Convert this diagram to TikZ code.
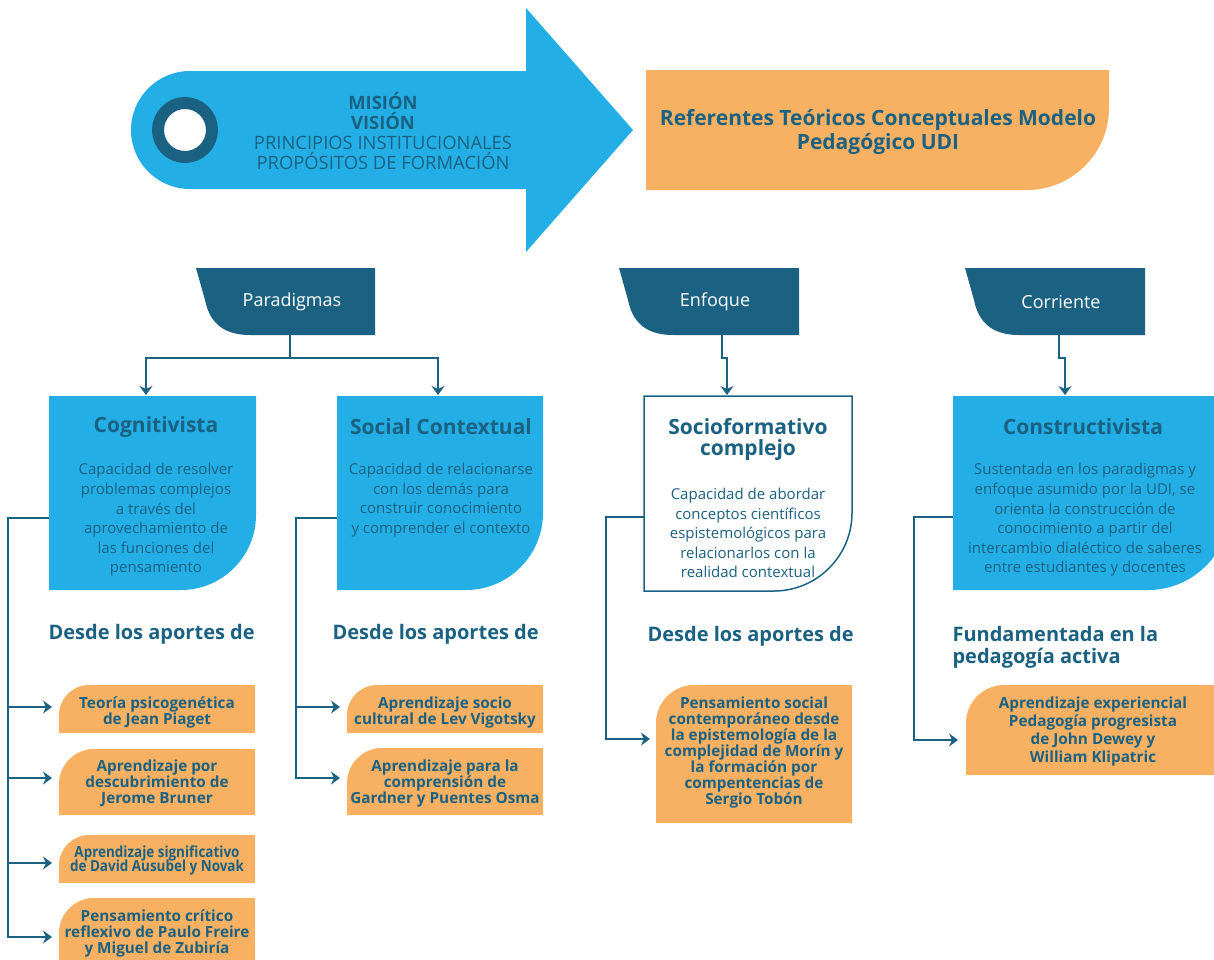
\documentclass[tikz,border=0pt]{standalone}
\usepackage{fontspec}
\setmainfont{Open Sans}
\usetikzlibrary{arrows.meta}
\definecolor{cblue}{HTML}{23AFE5}
\definecolor{cdark}{HTML}{1B6182}
\definecolor{corange}{HTML}{F8B162}
% bottom-right rounded box: style, x1, y1, x2, y2, r
\newcommand\BRbox[6]{\path[#1] (#2,#3) -- (#4,#3) -- (#4,#5-#6) .. controls (#4,#5-0.45*#6) and (#4-0.45*#6,#5) .. (#4-#6,#5) -- (#2,#5) -- cycle;}
% top-left rounded box
\newcommand\TLbox[6]{\path[#1] (#2,#3+#6) .. controls (#2,#3+0.45*#6) and (#2+0.45*#6,#3) .. (#2+#6,#3) -- (#4,#3) -- (#4,#5) -- (#2,#5) -- cycle;}
% tab: style, x1, y1, x2, y2
\newcommand\Tab[5]{\path[#1] (#2,#3) -- (#4,#3) -- (#4,#5) -- (#2+54,#5) .. controls (#2+30,#5) and (#2+14,#5-10) .. (#2+9,#5-35) -- cycle;}
\tikzset{
  arr/.style={draw=cdark, line width=1.8pt, -{Stealth[length=9pt,width=13pt,inset=3pt]}},
  tabtxt/.style={text=white, font=\fontsize{18}{22}\selectfont},
  ttl/.style={text=cdark, font=\bfseries\fontsize{21}{21}\selectfont, align=center},
  body/.style={text=cdark, font=\fontsize{15}{19.6}\selectfont, align=center},
  otxt/.style={text=cdark, font=\bfseries\fontsize{15.3}{16}\selectfont, align=center},
  desde/.style={text=cdark, font=\bfseries\fontsize{20}{22}\selectfont, anchor=west, align=left},
}
\begin{document}
\begin{tikzpicture}[x=1pt,y=-1pt]
\useasboundingbox (0,0) rectangle (1214,959);

% ---------- top arrow ----------
\fill[cblue] (190,71) -- (526,71) -- (526,8) -- (633,130) -- (526,252) -- (526,189) -- (190,189)
  .. controls (157.4,189) and (131,162.6) .. (131,130) .. controls (131,97.4) and (157.4,71) .. (190,71) -- cycle;
\draw[cdark, line width=12pt, fill=white] (185,130) circle (27);
\node[text=cdark, font=\fontsize{18.4}{20}\selectfont, align=center] (mv) at (383,131)
  {\textbf{MISIÓN}\\\textbf{VISIÓN}\\PRINCIPIOS INSTITUCIONALES\\PROPÓSITOS DE FORMACIÓN};

% ---------- top orange ----------
\BRbox{fill=corange}{646}{70}{1109}{190}{82}
\node[text=cdark, font=\bfseries\fontsize{21}{24}\selectfont, align=center] (ref) at (878,132)
  {Referentes Teóricos Conceptuales Modelo\\Pedagógico UDI};

% ---------- tabs ----------
\Tab{fill=cdark}{196}{268}{375}{335}
\Tab{fill=cdark}{619}{268}{799}{335}
\Tab{fill=cdark}{965}{268}{1145}{335}
\node[tabtxt] (par) at (292,302) {Paradigmas};
\node[tabtxt] (enf) at (715,302) {Enfoque};
\node[tabtxt] (cor) at (1061,302) {Corriente};
\coordinate (parB) at (290,335);
\coordinate (enfB) at (722,335);
\coordinate (corB) at (1059,335);

% ---------- blue / white boxes ----------
\BRbox{fill=cblue}{49}{396}{256}{590}{75}
\BRbox{fill=cblue}{337}{396}{543}{590}{77}
\BRbox{fill=white, draw=cdark, line width=1.5pt}{644}{396}{852}{591}{78}
\BRbox{fill=cblue}{953}{396}{1230}{590}{82}
\coordinate (cogT) at (146,395);
\coordinate (socT) at (438,395);
\coordinate (sfT) at (727,395);
\coordinate (conT) at (1065,395);
\coordinate (cogL) at (49,518);
\coordinate (socL) at (337,518);
\coordinate (sfL) at (644,517);
\coordinate (conL) at (953,517);

\node[ttl] (cogt) at (156,427) {Cognitivista};
\node[body] (cogb) at (156,520) {Capacidad de resolver\\problemas complejos\\a través del\\aprovechamiento de\\las funciones del\\pensamiento};
\node[ttl] (soct) at (441,427) {Social Contextual};
\node[body] (socb) at (441,500) {Capacidad de relacionarse\\con los demás para\\construir conocimiento\\y comprender el contexto};
\node[ttl] (sft) at (748,439) {Socioformativo\\complejo};
\node[body] (sfb) at (748,533) {Capacidad de abordar\\conceptos científicos\\espistemológicos para\\relacionarlos con la\\realidad contextual};
\node[ttl] (cont) at (1083,427) {Constructivista};
\node[body] (conb) at (1085,520) {Sustentada en los paradigmas y\\enfoque asumido por la UDI, se\\orienta la construcción de\\conocimiento a partir del\\intercambio dialéctico de saberes\\entre estudiantes y docentes};

% ---------- section headings ----------
\node[desde] (d1) at (45,634) {Desde los aportes de};
\node[desde] (d2) at (329,634) {Desde los aportes de};
\node[desde] (d3) at (644,636) {Desde los aportes de};
\node[desde] (d4) at (949,647) {Fundamentada en la\\pedagogía activa};

% ---------- orange boxes ----------
\TLbox{fill=corange}{59}{685}{255}{733}{30}
\TLbox{fill=corange}{59}{749}{255}{815}{35}
\TLbox{fill=corange}{59}{835}{255}{883}{30}
\TLbox{fill=corange}{59}{898}{255}{975}{35}
\TLbox{fill=corange}{347}{685}{543}{733}{30}
\TLbox{fill=corange}{347}{748}{543}{815}{35}
\TLbox{fill=corange}{656}{685}{852}{823}{38}
\TLbox{fill=corange}{966}{685}{1230}{775}{38}

\node[otxt] (o1) at (157,712) {Teoría psicogenética\\de Jean Piaget};
\node[otxt] (o2) at (157,783) {Aprendizaje por\\descubrimiento de\\Jerome Bruner};
\node[otxt] (o3) at (157,861) {\scalebox{0.88}[1]{\begin{tabular}{@{}c@{}}Aprendizaje significativo\\[-3pt]de David Ausubel y Novak\end{tabular}}};
\node[otxt] (o4) at (157,933) {Pensamiento crítico\\reflexivo de Paulo Freire\\y Miguel de Zubiría};
\node[otxt] (s1) at (445,713) {Aprendizaje socio\\cultural de Lev Vigotsky};
\node[otxt] (s2) at (445,784) {Aprendizaje para la\\comprensión de\\Gardner y Puentes Osma};
\node[otxt] (f1) at (754,753) {Pensamiento social\\contemporáneo desde\\la epistemología de la\\complejidad de Morín y\\la formación por\\compentencias de\\Sergio Tobón};
\node[otxt, font=\bfseries\fontsize{15.3}{18}\selectfont] (c1) at (1093,732) {Aprendizaje experiencial\\Pedagogía progresista\\de John Dewey y\\William Klipatric};

\coordinate (o1W) at (52,707);
\coordinate (o2W) at (52,778);
\coordinate (o3W) at (52,863);
\coordinate (o4W) at (52,937);
\coordinate (s1W) at (340,707);
\coordinate (s2W) at (340,778);
\coordinate (f1W) at (650,739);
\coordinate (c1W) at (958,740);

% ---------- connectors ----------
\draw[arr] (parB) -- ++(0,23) -| (cogT);
\draw[arr] (parB) -- ++(0,23) -| (socT);
\draw[arr] (enfB) -- ++(0,23) -- ++(5,0) -- (sfT);
\draw[arr] (corB) -- ++(0,23) -- ++(6,0) -- (conT);

\draw[arr] (cogL) -- ++(-41,0) |- (o1W);
\draw[arr] (cogL) -- ++(-41,0) |- (o2W);
\draw[arr] (cogL) -- ++(-41,0) |- (o3W);
\draw[arr] (cogL) -- ++(-41,0) |- (o4W);
\draw[arr] (socL) -- ++(-41,0) |- (s1W);
\draw[arr] (socL) -- ++(-41,0) |- (s2W);
\draw[arr] (sfL) -- ++(-38,0) |- (f1W);
\draw[arr] (conL) -- ++(-39,0) |- (c1W);
\end{tikzpicture}
\end{document}
